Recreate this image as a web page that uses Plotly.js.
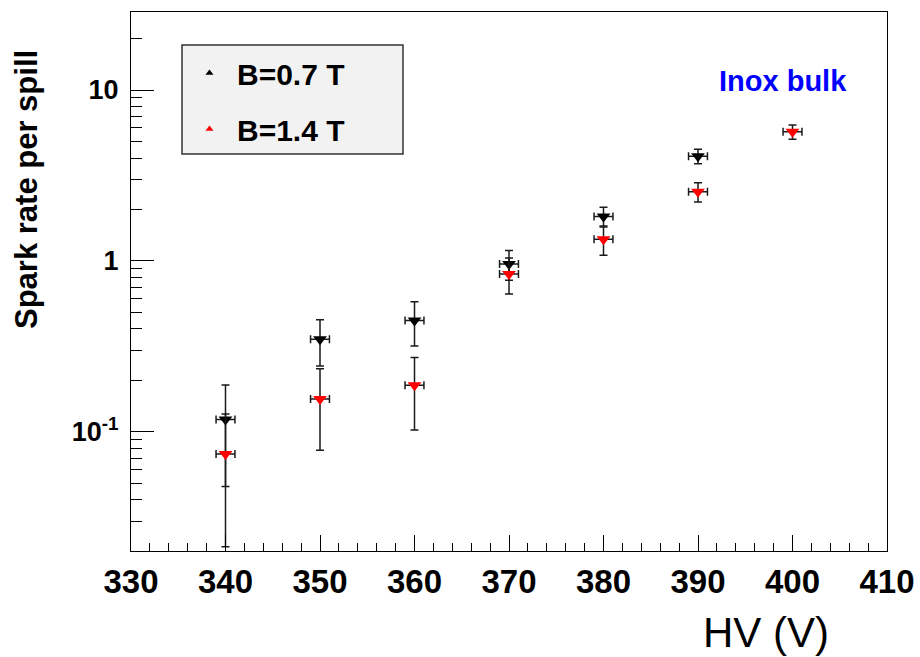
<!DOCTYPE html>
<html>
<head>
<meta charset="utf-8">
<script src="https://cdn.plot.ly/plotly-3.0.1.min.js"></script>
<style>html,body{margin:0;padding:0;background:#fff;}#chart{width:920px;height:657px;}</style>
</head>
<body>
<div id="chart"></div>
<script>
// HV values (V)
const hvLow = [340, 350, 360, 370, 380, 390];
const hvHigh = [340, 350, 360, 370, 380, 390, 400];
// Spark rate per spill, B = 0.7 T
const rateLow = [0.118, 0.348, 0.448, 0.96, 1.82, 4.1];
const errLow = [0.07, 0.105, 0.13, 0.19, 0.24, 0.4];
// Spark rate per spill, B = 1.4 T
const rateHigh = [0.0743, 0.156, 0.1875, 0.84, 1.34, 2.54, 5.7];
const errHigh = [0.053, 0.078, 0.085, 0.2, 0.26, 0.33, 0.55];
// HV uncertainty (V)
const hvErrLow = [1, 1, 1, 1, 1, 1];
const hvErrHigh = [1, 1, 1, 1, 1, 1, 1];
// Labels
const seriesNames = ['B=0.7 T', 'B=1.4 T'];
const yTickVals = [0.1, 1, 10];
const yTickText = ['10<sup>-1</sup>', '1', '10'];
const yMinorVals = [0.02,0.03,0.04,0.05,0.06,0.07,0.08,0.09,0.2,0.3,0.4,0.5,0.6,0.7,0.8,0.9,2,3,4,5,6,7,8,9,20];
const xTickVals = [330, 340, 350, 360, 370, 380, 390, 400, 410];

const FONT = 'Liberation Sans, Arial, Helvetica, sans-serif';
const errStyle = {color: '#1a1a1a', thickness: 1.5, width: 4};

const traces = [
  {x: hvLow, y: rateLow, type: 'scatter', mode: 'markers', showlegend: false,
   marker: {symbol: 'triangle-down', size: 12, color: 'black'},
   error_y: Object.assign({type: 'data', array: errLow, visible: true}, errStyle),
   error_x: Object.assign({type: 'data', array: hvErrLow, visible: true}, errStyle)},
  {x: hvHigh, y: rateHigh, type: 'scatter', mode: 'markers', showlegend: false,
   marker: {symbol: 'triangle-down', size: 12, color: 'red'},
   error_y: Object.assign({type: 'data', array: errHigh, visible: true}, errStyle),
   error_x: Object.assign({type: 'data', array: hvErrHigh, visible: true}, errStyle)},
  {x: [null], y: [null], type: 'scatter', mode: 'markers', name: seriesNames[0], legendgroup: 'a',
   marker: {symbol: 'triangle-up', size: 7, color: 'black'}},
  {x: [null], y: [null], type: 'scatter', mode: 'markers', name: seriesNames[1], legendgroup: 'b',
   marker: {symbol: 'triangle-up', size: 7, color: 'red'}}
];

const L = 131, R = 887, T = 12, B = 551;
const px = v => (v - L) / (R - L);
const py = v => (B - v) / (B - T);

const layout = {
  width: 920, height: 657,
  margin: {l: L, r: 920 - R, t: T, b: 657 - B},
  paper_bgcolor: 'white', plot_bgcolor: 'white',
  showlegend: true,
  font: {family: FONT, color: 'black'},
  xaxis: {
    range: [330, 410], showgrid: false, zeroline: false,
    showline: true, mirror: true, linecolor: 'black', linewidth: 1,
    ticks: 'inside', ticklen: 16, tickwidth: 1, tickcolor: 'black',
    tickmode: 'array', tickvals: xTickVals,
    tickfont: {family: FONT, size: 33, weight: 'bold', color: 'black'},
    ticklabelstandoff: 1,
    minor: {dtick: 2, tick0: 330, ticks: 'inside', ticklen: 8, tickcolor: 'black', tickwidth: 1}
  },
  yaxis: {
    type: 'log', range: [Math.log10(0.0201), Math.log10(28.6)],
    showgrid: false, zeroline: false,
    showline: true, mirror: true, linecolor: 'black', linewidth: 1,
    ticks: 'inside', ticklen: 23, tickwidth: 1, tickcolor: 'black',
    tickmode: 'array', tickvals: yTickVals, ticktext: yTickText,
    tickfont: {family: FONT, size: 27, weight: 'bold', color: 'black'},
    ticklabelstandoff: 6,
    minor: {tickmode: 'array', tickvals: yMinorVals, ticks: 'inside', ticklen: 11, tickcolor: 'black', tickwidth: 1}
  },
  legend: {
    x: px(182), y: py(47), xanchor: 'left', yanchor: 'top',
    bgcolor: 'rgba(0,0,0,0)', borderwidth: 0,
    font: {family: FONT, size: 30, weight: 'bold', color: 'black'},
    itemwidth: 45, tracegroupgap: 14
  },
  shapes: [
    {type: 'rect', xref: 'paper', yref: 'paper', x0: px(182), x1: px(403), y0: py(154), y1: py(45),
     fillcolor: '#f2f2f2', line: {color: '#333', width: 1.5}, layer: 'below'}
  ],
  annotations: [
    {text: 'Spark rate per spill', xref: 'paper', yref: 'paper', x: px(26), y: py(190),
     xanchor: 'center', yanchor: 'middle', textangle: -90, showarrow: false,
     font: {family: FONT, size: 31, weight: 'bold', color: 'black'}},
    {text: 'HV (V)', xref: 'paper', yref: 'paper', x: px(766), y: py(632),
     xanchor: 'center', yanchor: 'middle', showarrow: false,
     font: {family: FONT, size: 42, color: 'black'}},
    {text: 'Inox bulk', xref: 'paper', yref: 'paper', x: px(783), y: py(81),
     xanchor: 'center', yanchor: 'middle', showarrow: false,
     font: {family: FONT, size: 29, weight: 'bold', color: '#0000ff'}}
  ]
};

Plotly.newPlot('chart', traces, layout, {displayModeBar: false, staticPlot: true});
</script>
</body>
</html>
